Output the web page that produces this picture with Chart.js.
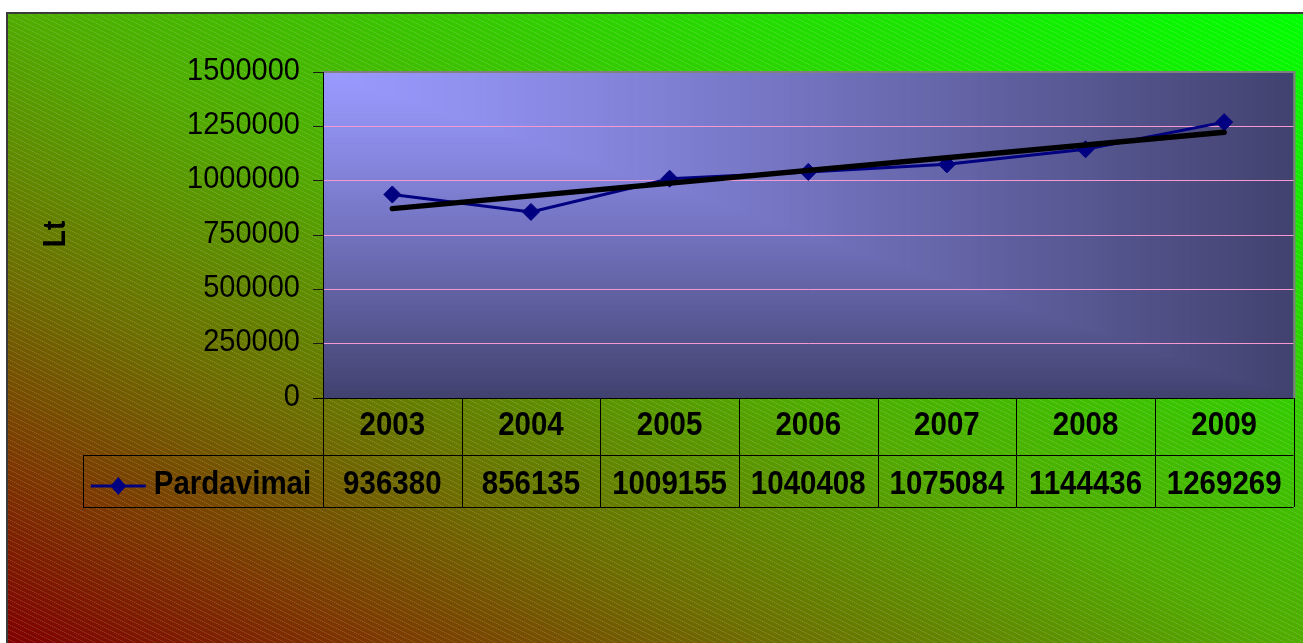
<!DOCTYPE html>
<html>
<head>
<meta charset="utf-8">
<script src="https://cdn.jsdelivr.net/npm/chart.js@4.4.1/dist/chart.umd.min.js"></script>
<style>
  html, body { margin: 0; padding: 0; background: #ffffff; overflow: hidden; }
  #wrap { width: 1303px; height: 643px; position: relative; }
  canvas { display: block; }
</style>
</head>
<body>
<div id="wrap"><canvas id="chart" width="1303" height="643"></canvas></div>
<script>
// Annual sales, litas
const years = ['2003', '2004', '2005', '2006', '2007', '2008', '2009'];
const sales = [936380, 856135, 1009155, 1040408, 1075084, 1144436, 1269269];
// Linear trend end values (first and last year)
const trendValues = [871400, null, null, null, null, null, 1223100];
const yTickValues = [0, 250000, 500000, 750000, 1000000, 1250000, 1500000];
const seriesName = 'Pardavimai';
const axisTitle = 'Lt';

const FONT = '"Liberation Sans", Arial, Helvetica, sans-serif';
const LINE_COLOR = '#000080';

// Text drawn slightly taller than wide, like the office-chart renderer
function stretchedText(ctx, str, x, y, font, align, sy, rot) {
  ctx.save();
  ctx.translate(x, y);
  if (rot) ctx.rotate(rot);
  ctx.scale(1, sy);
  ctx.font = font;
  ctx.textAlign = align;
  ctx.textBaseline = 'middle';
  ctx.fillStyle = '#000';
  ctx.fillText(str, 0, 0);
  ctx.restore();
}

// fine light diagonal hatch
function hatchPattern(ctx) {
  const tile = document.createElement('canvas');
  tile.width = 10; tile.height = 5;
  const t = tile.getContext('2d');
  for (let x = 0; x < 10; x++) {
    t.fillStyle = (x % 2 === 0) ? 'rgba(255,255,255,0.16)' : 'rgba(255,255,255,0.07)';
    t.fillRect(x, Math.floor(x / 2), 1, 1);
  }
  return ctx.createPattern(tile, 'repeat');
}

const backdrop = {
  id: 'backdrop',
  beforeDraw(chart) {
    const ctx = chart.ctx;
    const W = chart.width, H = chart.height;
    const a = chart.chartArea;
    ctx.save();
    ctx.fillStyle = '#ffffff';
    ctx.fillRect(0, 0, W, H);

    // chart background: diagonal dark red -> green
    const bx = 7, by = 13, bw = W - bx, bh = H - by;
    ctx.save();
    ctx.translate(bx, by);
    ctx.scale(bw, bh);
    const g = ctx.createLinearGradient(0, 1, 1, 0);
    g.addColorStop(0, 'rgb(128,0,0)');
    g.addColorStop(0.15, 'rgb(124,58,0)');
    g.addColorStop(0.3, 'rgb(108,112,0)');
    g.addColorStop(0.5, 'rgb(80,172,0)');
    g.addColorStop(0.75, 'rgb(42,214,0)');
    g.addColorStop(1, 'rgb(0,255,0)');
    ctx.fillStyle = g;
    ctx.fillRect(0, 0, 1, 1);
    ctx.restore();
    ctx.fillStyle = hatchPattern(ctx);
    ctx.fillRect(bx, by, bw, bh);
    ctx.strokeStyle = '#3a3a3a';
    ctx.lineWidth = 2;
    ctx.beginPath();
    ctx.moveTo(bx, H);
    ctx.lineTo(bx, by);
    ctx.lineTo(W, by);
    ctx.stroke();

    // plot area: corner gradient, light at top-left
    const L = a.left, T = a.top, PW = a.right - a.left, PH = a.bottom - a.top;
    const c0 = [154, 154, 255], c1 = [66, 66, 112];
    const N = 160;
    for (let k = N; k >= 1; k--) {
      const s = k / N;
      const e = Math.pow(s, 1.15);
      const r = Math.round(c0[0] + (c1[0] - c0[0]) * e);
      const gg = Math.round(c0[1] + (c1[1] - c0[1]) * e);
      const b = Math.round(c0[2] + (c1[2] - c0[2]) * e);
      ctx.fillStyle = `rgb(${r},${gg},${b})`;
      ctx.fillRect(L, T, PW * s, PH * s);
    }
    ctx.strokeStyle = '#808080';
    ctx.lineWidth = 2;
    ctx.beginPath();
    ctx.moveTo(L, T);
    ctx.lineTo(a.right + 1, T);
    ctx.lineTo(a.right + 1, a.bottom);
    ctx.stroke();
    ctx.restore();
  },
  afterDraw(chart) {
    const ctx = chart.ctx;
    const a = chart.chartArea;
    const xs = chart.scales.x, ys = chart.scales.y;
    ctx.save();

    // value axis labels
    yTickValues.forEach(v => {
      stretchedText(ctx, String(v), 300, ys.getPixelForValue(v) - 1, `29px ${FONT}`, 'right', 1.1);
    });
    // value axis title
    stretchedText(ctx, axisTitle, 56, 234, `bold 28px ${FONT}`, 'center', 1.15, -Math.PI / 2);

    // data table under the plot
    const half = (xs.getPixelForValue(1) - xs.getPixelForValue(0)) / 2;
    const row1Top = a.bottom, row1Bot = 455, row2Bot = 507, legLeft = 83;
    ctx.strokeStyle = '#000';
    ctx.lineWidth = 1;
    ctx.beginPath();
    // axis line incl. zero tick
    ctx.moveTo(a.left - 10, row1Top + 0.5);
    ctx.lineTo(a.right, row1Top + 0.5);
    ctx.moveTo(legLeft, row1Bot + 0.5);
    ctx.lineTo(a.right, row1Bot + 0.5);
    ctx.moveTo(legLeft, row2Bot + 0.5);
    ctx.lineTo(a.right, row2Bot + 0.5);
    ctx.moveTo(legLeft + 0.5, row1Bot);
    ctx.lineTo(legLeft + 0.5, row2Bot);
    years.forEach((y, i) => {
      const xl = Math.round(xs.getPixelForValue(i) - half) + 0.5;
      ctx.moveTo(xl, row1Top);
      ctx.lineTo(xl, row2Bot);
    });
    const xr = Math.round(xs.getPixelForValue(years.length - 1) + half) + 0.5;
    ctx.moveTo(xr, row1Top);
    ctx.lineTo(xr, row2Bot);
    ctx.stroke();

    years.forEach((y, i) => {
      const cx = xs.getPixelForValue(i);
      stretchedText(ctx, y, cx, (row1Top + row1Bot) / 2 - 1, `bold 29.5px ${FONT}`, 'center', 1.12);
      stretchedText(ctx, String(sales[i]), cx, (row1Bot + row2Bot) / 2 + 4, `bold 29.5px ${FONT}`, 'center', 1.12);
    });

    // legend key in the table
    ctx.font = `bold 29.5px ${FONT}`;
    const tw = ctx.measureText(seriesName).width;
    const keyW = 55, gap = 8;
    const cellMid = (legLeft + a.left) / 2;
    const kx = cellMid - (keyW + gap + tw) / 2 - 2;
    const ky = (row1Bot + row2Bot) / 2 + 5;
    ctx.strokeStyle = LINE_COLOR;
    ctx.lineWidth = 3;
    ctx.beginPath();
    ctx.moveTo(kx, ky);
    ctx.lineTo(kx + keyW, ky);
    ctx.stroke();
    const dx = kx + keyW / 2;
    ctx.fillStyle = LINE_COLOR;
    ctx.beginPath();
    ctx.moveTo(dx - 8, ky);
    ctx.lineTo(dx, ky - 9);
    ctx.lineTo(dx + 8, ky);
    ctx.lineTo(dx, ky + 9);
    ctx.closePath();
    ctx.fill();
    stretchedText(ctx, seriesName, kx + keyW + gap, ky - 1, `bold 29.5px ${FONT}`, 'left', 1.12);
    ctx.restore();
  }
};

new Chart(document.getElementById('chart'), {
  type: 'line',
  data: {
    labels: years,
    datasets: [
      {
        label: seriesName,
        data: sales,
        borderColor: LINE_COLOR,
        backgroundColor: LINE_COLOR,
        borderWidth: 3,
        pointStyle: 'rectRot',
        pointRadius: 8.5,
        pointBorderWidth: 1,
        pointBackgroundColor: LINE_COLOR,
        pointBorderColor: LINE_COLOR,
        tension: 0,
        order: 2
      },
      {
        label: 'trend',
        data: trendValues,
        spanGaps: true,
        borderColor: '#000000',
        borderWidth: 5.5,
        borderCapStyle: 'round',
        pointRadius: 0,
        pointHoverRadius: 0,
        tension: 0,
        order: 1
      }
    ]
  },
  options: {
    responsive: false,
    devicePixelRatio: 1,
    animation: false,
    events: [],
    layout: { padding: { left: 0, right: 9, top: 72, bottom: 245 } },
    plugins: { legend: { display: false }, tooltip: { enabled: false }, title: { display: false } },
    scales: {
      x: { type: 'category', offset: true, display: false },
      y: {
        min: 0,
        max: 1500000,
        afterFit(scale) { scale.width = 323; },
        afterBuildTicks(scale) { scale.ticks = yTickValues.map(v => ({ value: v })); },
        ticks: { display: false },
        border: { display: true, color: '#000000', width: 1 },
        grid: {
          drawTicks: true,
          tickLength: 10,
          tickColor: '#1a1a1a',
          lineWidth: 1,
          color: ctx => (ctx.tick && ctx.tick.value > 0 && ctx.tick.value < 1500000) ? '#f59ad0' : 'rgba(0,0,0,0)'
        }
      }
    }
  },
  plugins: [backdrop]
});
</script>
</body>
</html>
